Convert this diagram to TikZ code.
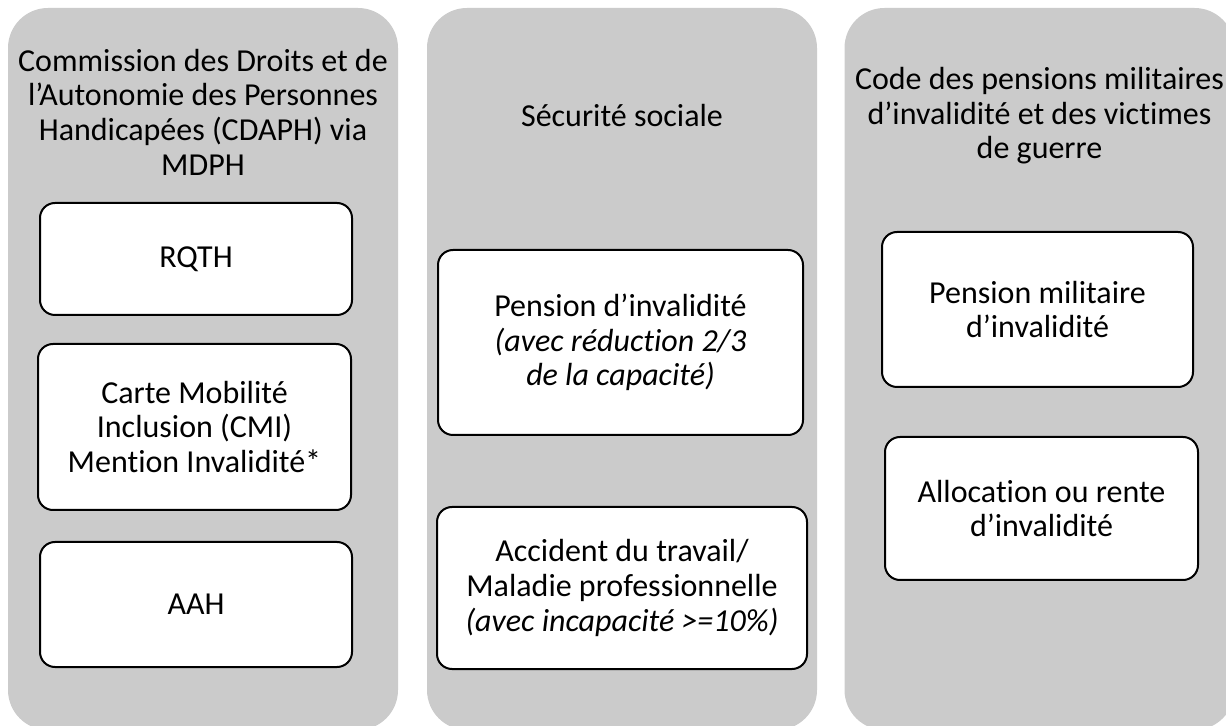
\documentclass[tikz,border=0pt]{standalone}
\usepackage{fontspec}
\setmainfont{Carlito}[Ligatures=NoCommon]
\usepackage{tikz}
\definecolor{colgray}{RGB}{203,203,203}
\tikzset{
    colbox/.style = {rectangle, rounded corners=20pt, fill=colgray, draw=none, minimum width=195pt, minimum height=361pt},
    itembox/.style = {rectangle, rounded corners=7.5pt, line width=1pt, draw=black, fill=white, align=center, inner sep=0pt},
    titletext/.style = {align=center, inner sep=0pt},
}

\begin{document}
\begin{tikzpicture}[
    x=0.5pt, y=-0.5pt,
    font=\fontsize{16pt}{17.3pt}\selectfont]

  \useasboundingbox (0,0) rectangle (1226,726);

  % columns
  \node[colbox] (cdaph) at (203,369) {};
  \node[colbox] (secu) at (622,369) {};
  \node[colbox] (pmi) at (1039.5,369) {};

  % headings
  \node[titletext] (cdapht) at (203,112) {Commission des Droits et de\\l’Autonomie des Personnes\\Handicapées (CDAPH) via\\MDPH};
  \node[titletext] (secut) at (622,116) {Sécurité sociale};
  \node[titletext] (pmit) at (1039.5,116) {Code des pensions militaires\\d’invalidité et des victimes\\de guerre};

  % CDAPH
  \node[itembox, minimum width=156pt, minimum height=56pt] (rqth) at (196,259) {RQTH};
  \node[itembox, minimum width=156.5pt, minimum height=83pt] (cmi) at (194.5,427) {Carte Mobilité\\Inclusion (CMI)\\Mention Invalidité*};
  \node[itembox, minimum width=156pt, minimum height=62.5pt] (aah) at (196,604.5) {AAH};

  % securite sociale
  \node[itembox, minimum width=182.5pt, minimum height=92.5pt] (inval) at (620.5,342.5) {Pension d’invalidité\\\textit{(avec réduction 2/3}\\\textit{de la capacité)}};
  \node[itembox, minimum width=185pt, minimum height=81pt] (atmp) at (622,588) {Accident du travail/\\Maladie professionnelle\\\textit{(avec incapacité >=10\%)}};

  % pensions militaires
  \node[itembox, minimum width=155.5pt, minimum height=77.5pt] (pmilit) at (1037.5,309.5) {Pension militaire\\d’invalidité};
  \node[itembox, minimum width=156.5pt, minimum height=71.5pt] (rente) at (1041.5,508.5) {Allocation ou rente\\d’invalidité};

\end{tikzpicture}
\end{document}
